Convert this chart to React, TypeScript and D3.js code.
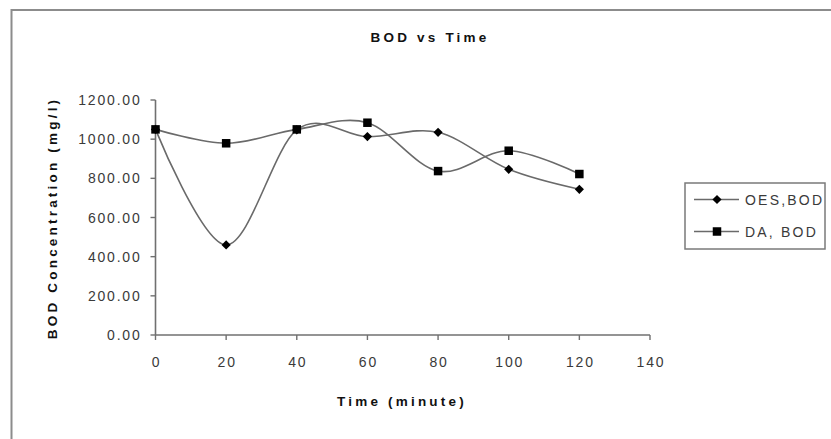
import React from "react";
import * as d3 from "d3";

const times = [0, 20, 40, 60, 80, 100, 120];
const oesBod = [1050, 460, 1047, 1013, 1035, 846, 744];
const daBod = [1050, 979, 1050, 1084, 837, 941, 822];
const xTicks = [0, 20, 40, 60, 80, 100, 120, 140];
const yTicks = [0, 200, 400, 600, 800, 1000, 1200];
const seriesNames = ["OES,BOD", "DA, BOD"];

const W = 831;
const H = 439;
const FONT = "'Liberation Sans', Arial, sans-serif";

export default function App() {
  const x = d3.scaleLinear().domain([0, 140]).range([155.5, 650]);
  const y = d3.scaleLinear().domain([0, 1200]).range([335, 100]);
  const line = d3
    .line<number>()
    .x((_, i) => x(times[i]))
    .y((d) => y(d))
    .curve(d3.curveCardinal.tension(0));

  const diamond = (cx: number, cy: number, r = 4.6) =>
    `M${cx},${cy - r}L${cx + r},${cy}L${cx},${cy + r}L${cx - r},${cy}Z`;
  const sq = 8.5;

  const lineColor = "#6a6a6a";
  const axisColor = "#707070";
  const textColor = "#3a3a3a";

  const legendRows = [
    { name: seriesNames[0], y: 199.5, marker: "diamond" },
    { name: seriesNames[1], y: 231.5, marker: "square" },
  ];

  return (
    <svg
      width={W}
      height={H}
      style={{ position: "absolute", left: 0, top: 0, background: "#fff" }}
      fontFamily={FONT}
    >
      <rect x={0} y={0} width={W} height={H} fill="#fff" />
      {/* outer chart border */}
      <rect
        x={11.5}
        y={10}
        width={W + 20}
        height={H + 20}
        fill="none"
        stroke="#8c8c8c"
        strokeWidth={2}
      />
      {/* title */}
      <text
        x={430}
        y={42}
        textAnchor="middle"
        fontSize={13.5}
        fontWeight="bold"
        letterSpacing={3.2}
        fill="#111"
      >
        BOD vs Time
      </text>

      {/* axes */}
      <line x1={x(0)} x2={x(140)} y1={y(0)} y2={y(0)} stroke={axisColor} strokeWidth={1.6} />
      <line x1={x(0)} x2={x(0)} y1={y(0)} y2={y(1200)} stroke={axisColor} strokeWidth={1.6} />
      {yTicks.map((t) => (
        <g key={"y" + t}>
          <line x1={x(0) - 5} x2={x(0)} y1={y(t)} y2={y(t)} stroke={axisColor} strokeWidth={1.4} />
          <text
            x={141.5}
            y={y(t) + 5}
            textAnchor="end"
            fontSize={14}
            letterSpacing={1.8}
            fill={textColor}
          >
            {t.toFixed(2)}
          </text>
        </g>
      ))}
      {xTicks.map((t) => (
        <g key={"x" + t}>
          <line x1={x(t)} x2={x(t)} y1={y(0)} y2={y(0) + 5} stroke={axisColor} strokeWidth={1.4} />
          <text
            x={x(t) + 1}
            y={367}
            textAnchor="middle"
            fontSize={14}
            letterSpacing={1.8}
            fill={textColor}
          >
            {t}
          </text>
        </g>
      ))}

      {/* axis titles */}
      <text
        x={402}
        y={406}
        textAnchor="middle"
        fontSize={13.5}
        fontWeight="bold"
        letterSpacing={3.2}
        fill="#111"
      >
        Time (minute)
      </text>
      <text
        transform={`translate(57,218) rotate(-90)`}
        textAnchor="middle"
        fontSize={13.5}
        fontWeight="bold"
        letterSpacing={3.2}
        fill="#111"
      >
        BOD Concentration (mg/l)
      </text>

      {/* series lines */}
      <path d={line(oesBod) || ""} fill="none" stroke={lineColor} strokeWidth={1.6} />
      <path d={line(daBod) || ""} fill="none" stroke={lineColor} strokeWidth={1.6} />

      {/* markers */}
      {oesBod.map((v, i) => (
        <path key={"o" + i} d={diamond(x(times[i]), y(v))} fill="#000" />
      ))}
      {daBod.map((v, i) => (
        <rect
          key={"d" + i}
          x={x(times[i]) - sq / 2}
          y={y(v) - sq / 2}
          width={sq}
          height={sq}
          fill="#000"
        />
      ))}

      {/* legend */}
      <rect x={685} y={183} width={140} height={66} fill="#fff" stroke="#7a7a7a" strokeWidth={1.5} />
      {legendRows.map((r) => (
        <g key={r.name}>
          <line x1={694} x2={739} y1={r.y} y2={r.y} stroke={lineColor} strokeWidth={1.6} />
          {r.marker === "diamond" ? (
            <path d={diamond(717, r.y)} fill="#000" />
          ) : (
            <rect x={717 - sq / 2} y={r.y - sq / 2} width={sq} height={sq} fill="#000" />
          )}
          <text x={745} y={r.y + 5} fontSize={14} letterSpacing={2.2} fill={textColor}>
            {r.name}
          </text>
        </g>
      ))}
    </svg>
  );
}
